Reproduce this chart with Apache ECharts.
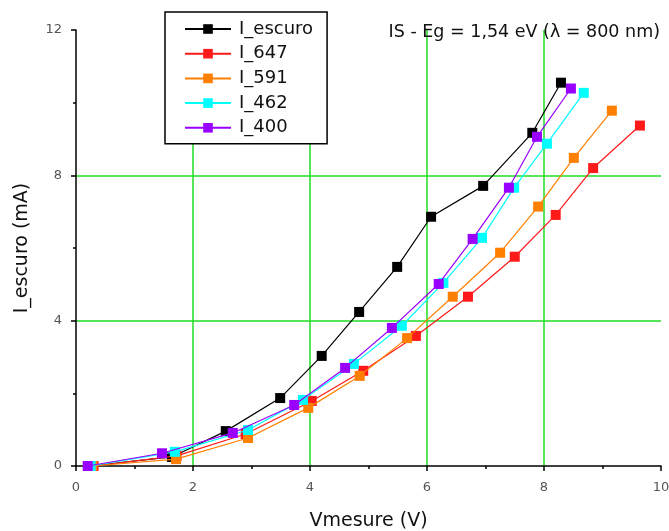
<!DOCTYPE html>
<html><head><meta charset="utf-8">
<script src="https://cdn.jsdelivr.net/npm/echarts@6/dist/echarts.min.js"></script>
<style>html,body{margin:0;padding:0;background:#fff}#c{width:669px;height:531px}</style>
</head><body><div id="c"></div>
<script>
var seriesNames = ['I_escuro','I_647','I_591','I_462','I_400'];
var colors = ['#000000','#ff1a1a','#ff7f00','#00ffff','#9900ff'];
var escuroX = [0.22, 1.64, 2.56, 3.49, 4.20, 4.84, 5.49, 6.07, 6.96, 7.80, 8.29];
var escuroY = [0.00, 0.25, 0.96, 1.87, 3.03, 4.24, 5.48, 6.86, 7.71, 9.17, 10.55];
var i647X = [0.30, 1.72, 2.90, 4.03, 4.91, 5.81, 6.70, 7.50, 8.20, 8.84, 9.64];
var i647Y = [0.00, 0.28, 0.88, 1.79, 2.62, 3.58, 4.66, 5.76, 6.91, 8.20, 9.37];
var i591X = [0.28, 1.71, 2.94, 3.97, 4.85, 5.66, 6.44, 7.25, 7.90, 8.51, 9.16];
var i591Y = [0.00, 0.19, 0.77, 1.60, 2.48, 3.52, 4.66, 5.87, 7.14, 8.48, 9.78];
var i462X = [0.25, 1.69, 2.94, 3.88, 4.75, 5.57, 6.28, 6.94, 7.49, 8.05, 8.68];
var i462Y = [0.00, 0.39, 0.99, 1.82, 2.81, 3.86, 5.04, 6.28, 7.66, 8.87, 10.27];
var i400X = [0.20, 1.47, 2.68, 3.73, 4.60, 5.40, 6.20, 6.78, 7.40, 7.88, 8.46];
var i400Y = [0.00, 0.35, 0.91, 1.68, 2.70, 3.80, 5.01, 6.25, 7.66, 9.06, 10.39];
var xs = [escuroX, i647X, i591X, i462X, i400X];
var ys = [escuroY, i647Y, i591Y, i462Y, i400Y];
var xTicks = [0,2,4,6,8,10];
var yTicks = [0,4,8,12];

function pairs(a,b){return a.map(function(v,i){return [v,b[i]];});}
var F = 'DejaVu Sans, Liberation Sans, sans-serif';
var chart = echarts.init(document.getElementById('c'), null, {renderer:'canvas'});
chart.setOption({
  animation:false,
  backgroundColor:'#fff',
  title:{text:'IS - Eg = 1,54 eV (\u03bb = 800 nm)', right:4, top:18,
    textStyle:{fontFamily:F, fontSize:17.5, fontWeight:'normal', color:'#111'}},
  legend:{orient:'vertical', left:165, top:12,
    backgroundColor:'#fff', borderColor:'#000', borderWidth:1.5,
    padding:[8,14,7,19], itemGap:6.7, itemWidth:46, itemHeight:12,
    textStyle:{fontFamily:F, fontSize:18, lineHeight:18, color:'#111', padding:[0,0,0,3]},
    data:seriesNames},
  grid:{left:76, right:8, top:30, bottom:65, containLabel:false, outerBoundsMode:'none'},
  xAxis:{type:'value', min:0, max:10, interval:2,
    name:'Vmesure (V)', nameLocation:'middle', nameGap:46,
    nameTextStyle:{fontFamily:F, fontSize:19, color:'#111'},
    axisLine:{lineStyle:{color:'#000', width:1.5}},
    axisTick:{length:5, lineStyle:{color:'#000', width:1.5}},
    minorTick:{show:true, splitNumber:2, length:3, lineStyle:{color:'#000', width:1.5}},
    axisLabel:{fontFamily:F, fontSize:13, color:'#555', margin:15,
      formatter:function(v){return xTicks.indexOf(v)>=0?String(v):'';}},
    splitLine:{show:true, showMinLine:false, showMaxLine:false, lineStyle:{color:'#22dd22', width:1.5}}},
  yAxis:{type:'value', min:0, max:12, interval:4,
    name:'I_escuro (mA)', nameLocation:'middle', nameGap:44,
    nameTextStyle:{fontFamily:F, fontSize:19, color:'#111'},
    axisLine:{lineStyle:{color:'#000', width:1.5}},
    axisTick:{length:5, lineStyle:{color:'#000', width:1.5}},
    minorTick:{show:true, splitNumber:2, length:3, lineStyle:{color:'#000', width:1.5}},
    axisLabel:{fontFamily:F, fontSize:13, color:'#555', margin:14,
      formatter:function(v){return yTicks.indexOf(v)>=0?String(v):'';}},
    splitLine:{show:true, showMinLine:false, showMaxLine:false, lineStyle:{color:'#22dd22', width:1.5}}},
  series: seriesNames.map(function(n,i){
    return {name:n, type:'line', data:pairs(xs[i],ys[i]),
      symbol:'rect', symbolSize:10, showAllSymbol:true,
      itemStyle:{color:colors[i]}, lineStyle:{color:colors[i], width:1.2}, z:2+i};
  })
});
</script></body></html>
